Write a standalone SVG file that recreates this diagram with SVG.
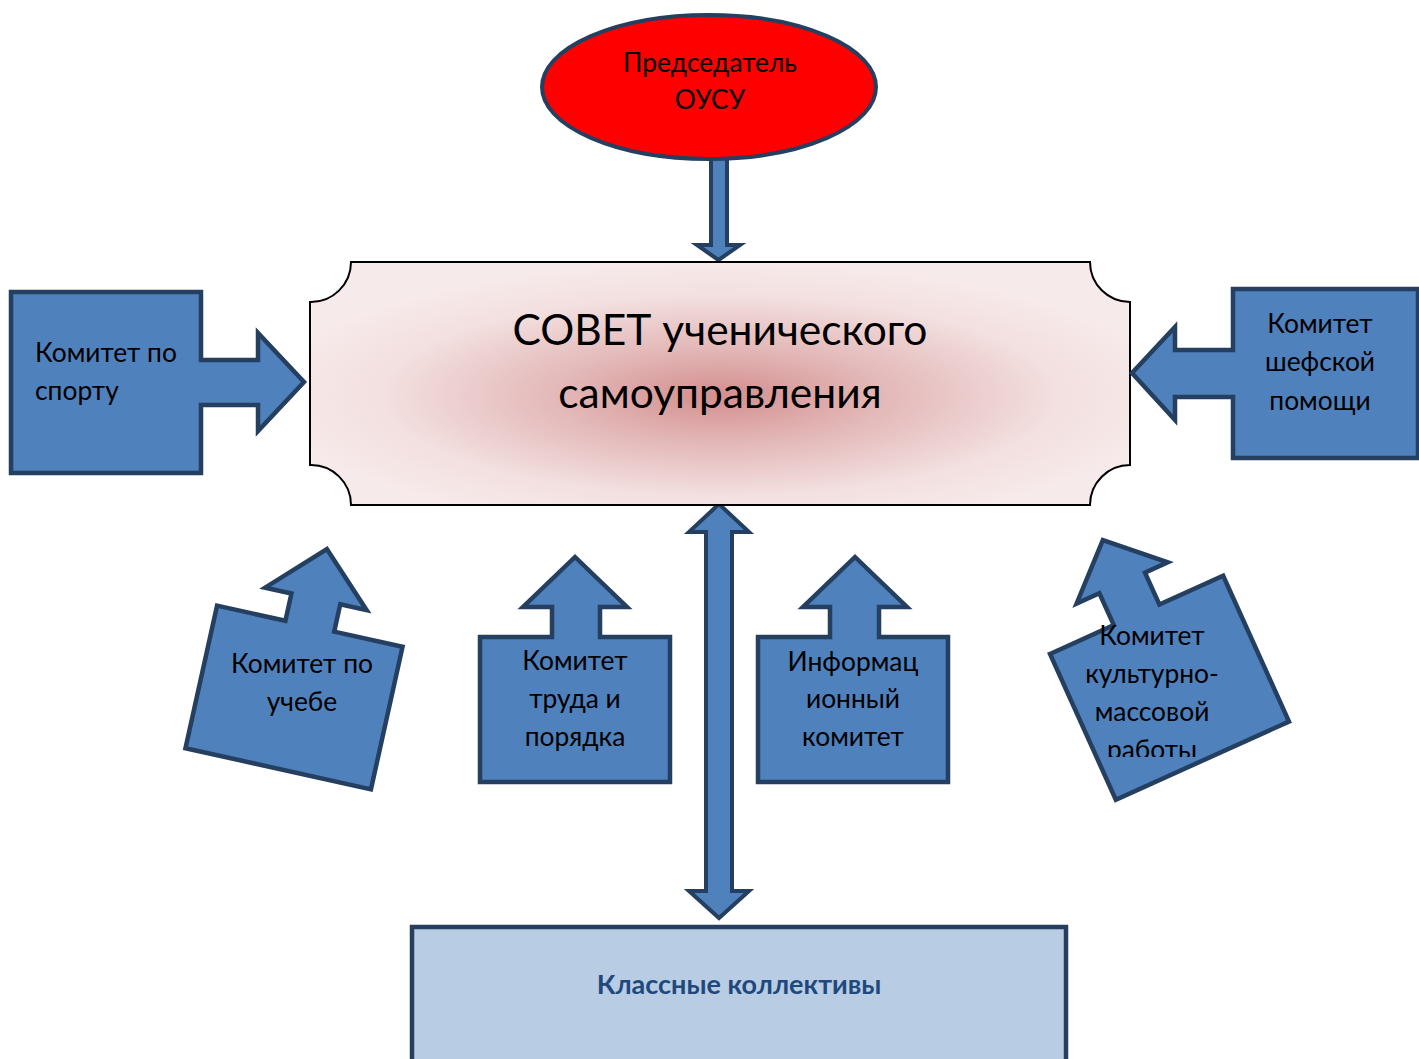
<svg xmlns="http://www.w3.org/2000/svg" width="1419" height="1059" viewBox="0 0 1419 1059">
<style>
.com{fill:#4F81BD;stroke:#243F60;stroke-width:4.5;stroke-linejoin:miter}
.arr{fill:#4F81BD;stroke:#243F60;stroke-width:4;stroke-linejoin:miter}
.t{font-family:Lato,"Liberation Sans",sans-serif;font-size:26.4px;fill:#000}
.c{text-anchor:middle}
.big{font-size:42.5px}
.cls{font-size:27px;font-weight:bold;fill:#1F497D}
</style>
<defs>
<radialGradient id="pink" cx="50%" cy="55%" r="55%">
<stop offset="0" stop-color="#D48E8E"/>
<stop offset="0.35" stop-color="#E3B7B7"/>
<stop offset="0.75" stop-color="#F3E0E0"/>
<stop offset="1" stop-color="#F7EAEA"/>
</radialGradient>
<clipPath id="cultclip"><rect x="1000" y="600" width="300" height="157"/></clipPath>
</defs>
<rect width="1419" height="1059" fill="#fff"/>
<g id="connectors">
<path class="arr" d="M711,150 V245 H697 L718.5,260 L740,245 H727 V150 Z"/>
<path class="arr" d="M719,504 L749,532 H732 V891 H749 L719,918 L689,891 H706 V532 H689 Z"/>
</g>
<g id="chairman">
<ellipse cx="709" cy="87" rx="167" ry="72" fill="#FF0000" stroke="#243F60" stroke-width="4"/>
<text class="t c" x="710" y="72">Председатель</text>
<text class="t c" x="710" y="109">ОУСУ</text>
</g>
<g id="council">
<path d="M351,262 H1090 A40,40 0 0 0 1130,302 V465 A40,40 0 0 0 1090,505 H351 A40,40 0 0 0 310,465 V302 A40,40 0 0 0 351,262 Z" fill="url(#pink)" stroke="#000" stroke-width="2"/>
<text class="t c big" x="720" y="345">СОВЕТ ученического</text>
<text class="t c big" x="720" y="408">самоуправления</text>
</g>
<g id="sport">
<path class="com" d="M11,292 H201 V360 H258 V333 L304,382 L258,431 V405 H201 V473 H11 Z"/>
<text class="t" x="35" y="362">Комитет по</text>
<text class="t" x="35" y="400">спорту</text>
</g>
<g id="patron">
<path class="com" d="M1418,289 H1233 V350 H1175 V327 L1132,373 L1175,420 V397 H1233 V458 H1418 Z"/>
<text class="t c" x="1320" y="333">Комитет</text>
<text class="t c" x="1320" y="371">шефской</text>
<text class="t c" x="1320" y="410">помощи</text>
</g>
<g id="study">
<path class="com" transform="translate(294,697.5) rotate(12.5)" d="M-95,-73 H-25 V-101 H-52 L0,-152 L52,-101 H25 V-73 H95 V73 H-95 Z"/>
<text class="t c" x="302" y="673">Комитет по</text>
<text class="t c" x="302" y="711">учебе</text>
</g>
<g id="labour">
<path class="com" d="M480,637 H552 V607 H523 L575,557 L627,607 H600 V637 H670 V782 H480 Z"/>
<text class="t c" x="575" y="670">Комитет</text>
<text class="t c" x="575" y="708">труда и</text>
<text class="t c" x="575" y="746">порядка</text>
</g>
<g id="info">
<path class="com" d="M758,637 H830 V607 H803 L855,557 L907,607 H879 V637 H948 V782 H758 Z"/>
<text class="t c" x="853" y="671">Информац</text>
<text class="t c" x="853" y="708">ионный</text>
<text class="t c" x="853" y="746">комитет</text>
</g>
<g id="culture">
<path class="com" transform="translate(1169.5,687.75) rotate(-24.3)" d="M-95,-80 H-25 V-115 H-50 L0,-162 L50,-115 H25 V-80 H95 V80 H-95 Z"/>
<g clip-path="url(#cultclip)">
<text class="t c" x="1152" y="645">Комитет</text>
<text class="t c" x="1152" y="683">культурно-</text>
<text class="t c" x="1152" y="721">массовой</text>
<text class="t c" x="1152" y="759">работы</text>
</g>
</g>
<g id="classes">
<rect x="412" y="927" width="654" height="140" fill="#B8CCE4" stroke="#243F60" stroke-width="4.5"/>
<text class="t c cls" x="739" y="994">Классные коллективы</text>
</g>
</svg>
